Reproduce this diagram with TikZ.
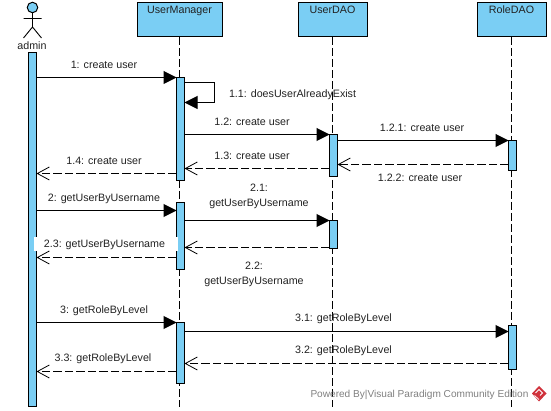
\documentclass[tikz,border=0pt]{standalone}
\usepackage{fontspec}
\setmainfont{Liberation Sans}
\usetikzlibrary{arrows.meta}
\definecolor{vpblue}{HTML}{7ACEF4}
\definecolor{vptext}{HTML}{222222}
\definecolor{vpred}{HTML}{D0323C}
\tikzset{
  x=1pt,y=-1pt,
  every node/.style={inner sep=0pt,outer sep=0pt},
  obj/.style={draw=black,line width=1pt,fill=vpblue,minimum height=34.5pt,text height=11.5pt,text depth=23pt,anchor=north,align=center,font=\fontsize{10.7}{15}\selectfont,text=vptext},
  bar/.style={draw=black,line width=1pt,fill=vpblue,minimum width=8pt},
  life/.style={line width=1pt,dash pattern=on 8pt off 3pt},
  call/.style={line width=1pt,-{Triangle[length=13pt,width=13pt]}},
  ret/.style={line width=1pt,dash pattern=on 8.5pt off 3pt,-{Straight Barb[length=12pt,width=13pt,line width=.8pt]}},
  lab/.style={font=\fontsize{10.7}{15}\selectfont,text=vptext,align=center},
}
\begin{document}
\begin{tikzpicture}
\useasboundingbox (0,0) rectangle (551,411);
% objects
\node[obj,minimum width=85pt,text width=85pt] (um) at (179.5,2.5) {UserManager};
\node[obj,minimum width=69pt,text width=69pt] (ud) at (332.5,2.5) {UserDAO};
\node[obj,minimum width=69pt,text width=69pt] (rd) at (511.5,2.5) {RoleDAO};
% lifeline ends
\coordinate (umend) at (179.5,407);
\coordinate (udend) at (332.5,407);
\coordinate (rdend) at (511.5,407);
\draw[life] (um.south) -- (umend);
\draw[life] (ud.south) -- (udend);
\draw[life] (rd.south) -- (rdend);
% actor
\node[draw=black,line width=1pt,fill=vpblue,circle,minimum size=10.5pt] (head) at (32.5,7.5) {};
\coordinate (hip) at (32.5,27);
\coordinate (armL) at (23.5,18.5);
\coordinate (armR) at (41.5,18.5);
\coordinate (legL) at (23.5,38);
\coordinate (legR) at (41.5,38);
\draw[line width=.9pt] (head.south) -- (hip) (armL) -- (armR) (legL) -- (hip) -- (legR);
\node[lab] (adminlab) at (32,45.5) {admin};
% activations
\node[bar,minimum height=354pt] (adm) at (32.5,229.5) {};
\node[bar,minimum height=103pt] (um1) at (180.5,129) {};
\node[bar,minimum height=67pt] (um2) at (180.5,236) {};
\node[bar,minimum height=61pt] (um3) at (180.5,353) {};
\node[bar,minimum height=42pt] (ud1) at (333.5,155.5) {};
\node[bar,minimum height=28pt] (ud2) at (333.5,234.5) {};
\node[bar,minimum height=30pt] (rd1) at (512.5,155.5) {};
\node[bar,minimum height=44pt] (rd2) at (512.5,347.5) {};
% message levels
\foreach \n/\y in {m1/77.5,s1/82.5,s2/102.5,m12/134.5,m121/140.5,m122/164.5,m13/168.5,m14/173.5,m2/210.5,m21/220.5,m22/247.5,m23/257.5,m3/322.5,m31/331.5,m32/363.5,m33/371.5}
  \coordinate (\n) at (0,\y);
\coordinate (sx) at (214.5,0);
% white label backing of 2.3
\node[fill=white,minimum width=144pt,minimum height=14pt] (lab23) at (106,244) {};
% messages
\draw[call] (adm.east |- m1) -- (um1.west |- m1);
\draw[call] (um1.east |- s1) -- (sx |- s1) -- (sx |- s2) -- (um1.east |- s2);
\draw[call] (um1.east |- m12) -- (ud1.west |- m12);
\draw[call] (ud1.east |- m121) -- (rd1.west |- m121);
\draw[ret] (rd1.west |- m122) -- (ud1.east |- m122);
\draw[ret] (ud1.west |- m13) -- (um1.east |- m13);
\draw[ret] (um1.west |- m14) -- (adm.east |- m14);
\draw[call] (adm.east |- m2) -- (um2.west |- m2);
\draw[call] (um2.east |- m21) -- (ud2.west |- m21);
\draw[ret] (ud2.west |- m22) -- (um2.east |- m22);
\draw[ret] (um2.west |- m23) -- (adm.east |- m23);
\draw[call] (adm.east |- m3) -- (um3.west |- m3);
\draw[call] (um3.east |- m31) -- (rd2.west |- m31);
\draw[ret] (rd2.west |- m32) -- (um3.east |- m32);
\draw[ret] (um3.west |- m33) -- (adm.east |- m33);
% labels
\node[lab] (l1) at (104,65) {1: create user};
\node[lab,anchor=west] (l11) at (229,95) {1.1: doesUserAlreadyExist};
\node[lab] (l12) at (252,122) {1.2: create user};
\node[lab] (l121) at (422,128) {1.2.1: create user};
\node[lab] (l122) at (420,178) {1.2.2: create user};
\node[lab] (l13) at (252,156) {1.3: create user};
\node[lab] (l14) at (104,161) {1.4: create user};
\node[lab] (l2) at (104,199) {2: getUserByUsername};
\node[lab] (l21) at (259,196) {2.1:\\getUserByUsername};
\node[lab] (l22) at (254,274.5) {2.2:\\getUserByUsername};
\node[lab] (l23) at (104.5,245) {2.3: getUserByUsername};
\node[lab] (l3) at (104,311) {3: getRoleByLevel};
\node[lab] (l31) at (343.5,319) {3.1: getRoleByLevel};
\node[lab] (l32) at (343.5,351) {3.2: getRoleByLevel};
\node[lab] (l33) at (103,359) {3.3: getRoleByLevel};
% watermark
\node[lab,text=black!50,anchor=east,font=\fontsize{10.1}{12}\selectfont] (wm) at (528.5,395) {Powered By|Visual Paradigm Community Edition};
\fill[vpred] (539,386) -- (546.5,393.5) -- (539,401.5) -- (532,393.5) -- cycle;
\draw[white,line width=.8pt] (535.5,393) -- (539,389.5) -- (542.5,393) -- (540,395.5);
\draw[white,line width=.7pt] (534.5,395.5) -- (539,399.5);
\end{tikzpicture}
\end{document}
